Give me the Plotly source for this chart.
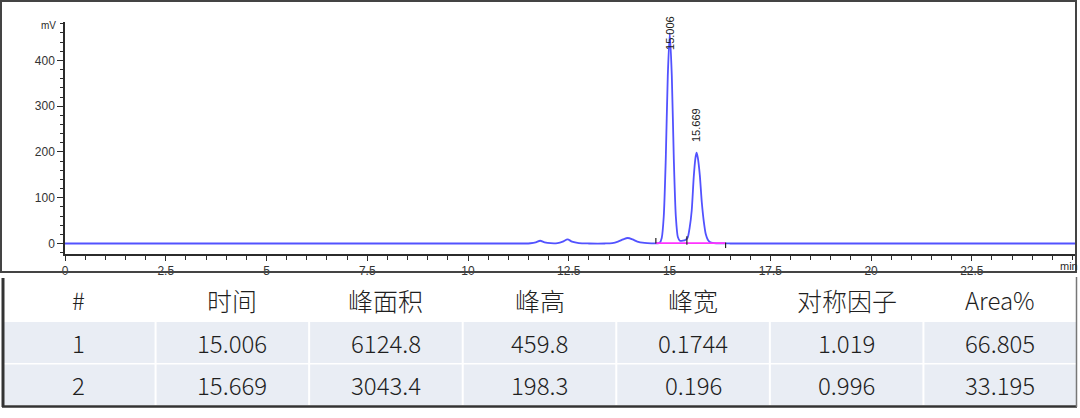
import plotly.graph_objects as go

# chromatogram trace (min, mV)
times = [0, 5, 10, 11.40, 11.55, 11.68, 11.79, 11.90, 12.05, 12.22, 12.35, 12.47, 12.58, 12.75,
         13.00, 13.40, 13.58, 13.72, 13.85, 13.96, 14.08, 14.20, 14.38, 14.55, 14.70, 14.756,
         14.806, 14.856, 14.906, 14.956, 15.006, 15.056, 15.106, 15.156, 15.206, 15.256, 15.33,
         15.40, 15.45, 15.50, 15.55, 15.60, 15.64, 15.669, 15.70, 15.75, 15.80, 15.85, 15.90,
         15.95, 16.00, 16.10, 16.30, 16.50, 20, 25.06]
signal = [0, 0, 0, 0, 0.5, 2.5, 6, 2.5, 0.6, 0.8, 4, 9, 4, 0.8,
          0, 0, 0.8, 4, 9, 12, 9, 4, 1.2, 0.3, 0.3, 1.5,
          12, 59, 184, 366, 459.8, 366, 184, 59, 14, 6, 6,
          8, 13, 35, 72, 145, 185, 198.3, 188, 150, 90, 48, 20,
          8, 3, 1, 0.3, 0, 0, 0]

# integration events (min)
baseline_start = 14.66
baseline_end = 16.39
event_times = [14.66, 15.43, 16.39]

# table data
headers = ["#", "时间", "峰面积", "峰高", "峰宽", "对称因子", "Area%"]
peak_no = ["1", "2"]
ret_time = ["15.006", "15.669"]
peak_area = ["6124.8", "3043.4"]
peak_height = ["459.8", "198.3"]
peak_width = ["0.1744", "0.196"]
symmetry = ["1.019", "0.996"]
area_pct = ["66.805", "33.195"]

W, H = 1080, 418
BLUE = "#5252ff"
AX = "#2b2b2b"

def px(x):
    return x / W

def py(y):
    return 1 - y / H

fig = go.Figure()

fig.add_trace(go.Scatter(x=times, y=signal, mode="lines",
                         line=dict(color=BLUE, width=1.8, shape="spline", smoothing=0.7),
                         hoverinfo="skip", showlegend=False))

# integration baseline
fig.add_trace(go.Scatter(x=[baseline_start, baseline_end], y=[0.6, 0.6], mode="lines",
                         line=dict(color="#ff33ff", width=1.8), showlegend=False))

shapes = []
for i, t in enumerate(event_times):
    lo, hi = [(0, 12), (-3, 16), (-10, 2)][i]
    shapes.append(dict(type="line", xref="x", yref="y", x0=t, x1=t, y0=lo, y1=hi,
                       line=dict(color="#222222", width=1.2)))

annotations = []
for t, h in zip(ret_time, peak_height):
    annotations.append(dict(x=float(t), y=min(float(h) + 18, 418), xref="x", yref="y",
                            text=t, showarrow=False, textangle=-90,
                            xanchor="center", yanchor="bottom",
                            font=dict(family="Arial", size=11, color="#222222")))

annotations.append(dict(x=px(58), y=py(26), xref="paper", yref="paper", text="mV",
                        showarrow=False, xanchor="right", yanchor="middle",
                        font=dict(family="Arial", size=10, color=AX)))
annotations.append(dict(x=24.9, y=py(266), xref="x", yref="paper", text="min",
                        showarrow=False, xanchor="center", yanchor="middle",
                        font=dict(family="Arial", size=11, color=AX)))

# chart frame
shapes.append(dict(type="rect", xref="paper", yref="paper", x0=px(1), x1=px(1076),
                   y0=py(1), y1=py(272), line=dict(color="#444444", width=2)))

# table
col_w = (1077 - 2) / len(headers)
row_top = [278, 321, 363.5]
row_bot = [321, 363.5, 405.5]
rows = [headers] + [list(r) for r in zip(peak_no, ret_time, peak_area, peak_height,
                                         peak_width, symmetry, area_pct)]
for r, row in enumerate(rows):
    for c, val in enumerate(row):
        x0 = 2 + c * col_w
        if r > 0:
            shapes.append(dict(type="rect", xref="paper", yref="paper", layer="below",
                               x0=px(x0 + 1), x1=px(x0 + col_w - 1),
                               y0=py(row_top[r] + 1), y1=py(row_bot[r] - 0.5),
                               fillcolor="#e9edf4", line=dict(width=0)))
        size = 24 if val.isascii() else 25
        annotations.append(dict(x=px(x0 + col_w / 2), y=py((row_top[r] + row_bot[r]) / 2),
                                xref="paper", yref="paper", text=val, showarrow=False,
                                xanchor="center", yanchor="middle",
                                font=dict(family="Noto Sans CJK SC", size=size,
                                          color="#1f1f1f", weight=300)))

shapes.append(dict(type="line", xref="paper", yref="paper", x0=px(3), x1=px(3),
                   y0=py(278), y1=py(407), line=dict(color="#333333", width=3)))
shapes.append(dict(type="line", xref="paper", yref="paper", x0=px(2), x1=px(1077),
                   y0=py(406.5), y1=py(406.5), line=dict(color="#333333", width=2.5)))
shapes.append(dict(type="line", xref="paper", yref="paper", x0=px(1076.5), x1=px(1076.5),
                   y0=py(277), y1=py(407), line=dict(color="#777777", width=1.5)))

fig.update_layout(
    width=W, height=H,
    margin=dict(l=0, r=0, t=0, b=0, autoexpand=False),
    paper_bgcolor="white", plot_bgcolor="white",
    shapes=shapes, annotations=annotations,
    xaxis=dict(domain=[px(65), px(1075)], range=[0, 25.06], showgrid=False, zeroline=False,
               showline=True, linecolor=AX, linewidth=1.5,
               tickvals=[0, 2.5, 5, 7.5, 10, 12.5, 15, 17.5, 20, 22.5],
               ticktext=["0", "2.5", "5", "7.5", "10", "12.5", "15", "17.5", "20", "22.5"],
               ticks="outside", ticklen=5, tickwidth=1.2, tickcolor=AX,
               minor=dict(dtick=0.5, tick0=0, ticks="outside", ticklen=4, tickwidth=1, tickcolor=AX),
               tickfont=dict(family="Arial", size=12, color="#333333")),
    yaxis=dict(domain=[py(254), py(22)], range=[-23, 484], showgrid=False, zeroline=False,
               showline=True, linecolor=AX, linewidth=1.5,
               tickvals=[0, 100, 200, 300, 400],
               ticks="outside", ticklen=6, tickwidth=1.2, tickcolor=AX,
               minor=dict(dtick=20, tick0=0, ticks="outside", ticklen=3, tickwidth=1, tickcolor=AX),
               tickfont=dict(family="Arial", size=12, color="#333333")),
)

fig.write_html("out.html", config={"displayModeBar": False},
               post_script="document.body.style.margin='0';")
